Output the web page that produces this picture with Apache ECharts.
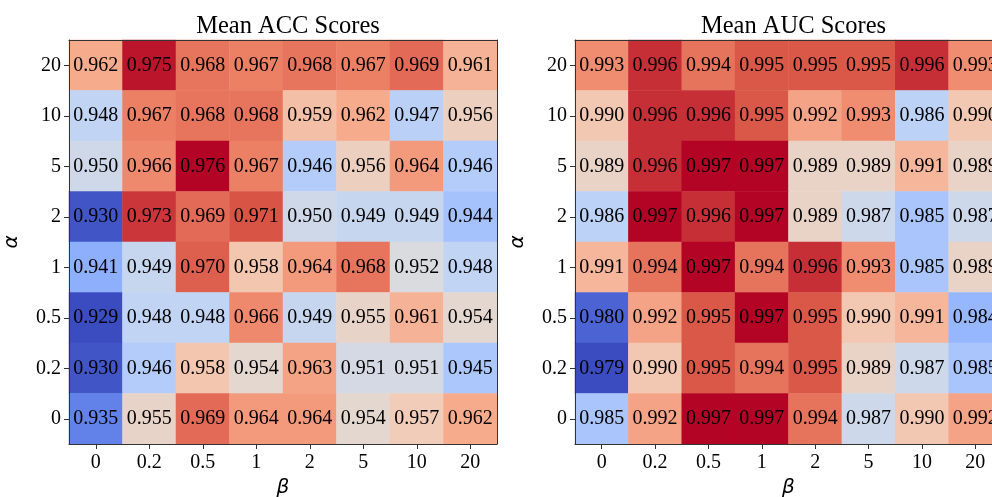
<!DOCTYPE html>
<html>
<head>
<meta charset="utf-8">
<script src="https://cdn.jsdelivr.net/npm/echarts@6/dist/echarts.min.js"></script>
<style>
html,body{margin:0;padding:0;background:#fff;}
#chart{width:992px;height:497px;}
</style>
</head>
<body>
<div id="chart"></div>
<script>
// beta (x) categories and alpha (y) categories (bottom to top)
const betaLabels = ['0', '0.2', '0.5', '1', '2', '5', '10', '20'];
const alphaLabels = ['0', '0.2', '0.5', '1', '2', '5', '10', '20'];

// Mean ACC rows, listed from alpha = 20 (top) down to alpha = 0 (bottom)
const accRows = [
  [0.962, 0.975, 0.968, 0.967, 0.968, 0.967, 0.969, 0.961], // 20
  [0.948, 0.967, 0.968, 0.968, 0.959, 0.962, 0.947, 0.956], // 10
  [0.950, 0.966, 0.976, 0.967, 0.946, 0.956, 0.964, 0.946], // 5
  [0.930, 0.973, 0.969, 0.971, 0.950, 0.949, 0.949, 0.944], // 2
  [0.941, 0.949, 0.970, 0.958, 0.964, 0.968, 0.952, 0.948], // 1
  [0.929, 0.948, 0.948, 0.966, 0.949, 0.955, 0.961, 0.954], // 0.5
  [0.930, 0.946, 0.958, 0.954, 0.963, 0.951, 0.951, 0.945], // 0.2
  [0.935, 0.955, 0.969, 0.964, 0.964, 0.954, 0.957, 0.962]  // 0
];

// Mean AUC rows, same ordering
const aucRows = [
  [0.993, 0.996, 0.994, 0.995, 0.995, 0.995, 0.996, 0.993], // 20
  [0.990, 0.996, 0.996, 0.995, 0.992, 0.993, 0.986, 0.990], // 10
  [0.989, 0.996, 0.997, 0.997, 0.989, 0.989, 0.991, 0.989], // 5
  [0.986, 0.997, 0.996, 0.997, 0.989, 0.987, 0.985, 0.987], // 2
  [0.991, 0.994, 0.997, 0.994, 0.996, 0.993, 0.985, 0.989], // 1
  [0.980, 0.992, 0.995, 0.997, 0.995, 0.990, 0.991, 0.984], // 0.5
  [0.979, 0.990, 0.995, 0.994, 0.995, 0.989, 0.987, 0.985], // 0.2
  [0.985, 0.992, 0.997, 0.997, 0.994, 0.987, 0.990, 0.992]  // 0
];

const titles = ['Mean ACC Scores', 'Mean AUC Scores'];

// coolwarm colormap samples (0.0 .. 1.0 in steps of 0.1)
const coolwarm = ['#3b4cc0', '#5977e3', '#7b9ff9', '#9ebeff', '#c0d4f5', '#dddcdc',
                  '#f2cbb7', '#f7ac8e', '#ee8468', '#d65244', '#b40426'];

function toTriples(rows) {
  const out = [];
  const n = rows.length;
  rows.forEach((row, r) => {
    row.forEach((v, c) => {
      out.push([c, n - 1 - r, v]);
    });
  });
  return out;
}
function rangeOf(rows) {
  const flat = rows.flat();
  return [Math.min(...flat), Math.max(...flat)];
}

const serif = 'Liberation Serif, Times New Roman, serif';
const greek = 'DejaVu Sans';
const grids = [
  {left: 69, top: 40, width: 428, height: 404},
  {left: 575, top: 40, width: 427, height: 404}
];

const chart = echarts.init(document.getElementById('chart'), null, {renderer: 'canvas'});

const datasets = [accRows, aucRows];
const option = {
  backgroundColor: '#fff',
  animation: false,
  title: titles.map((t, i) => ({
    text: t,
    left: grids[i].left + grids[i].width / 2,
    top: 9,
    textAlign: 'center',
    textStyle: {fontFamily: serif, fontSize: 24.5, fontWeight: 'normal', color: '#000'}
  })),
  grid: grids.map(g => Object.assign({containLabel: false, outerBoundsMode: 'none'}, g)),
  xAxis: [0, 1].map(i => ({
    type: 'category',
    gridIndex: i,
    data: betaLabels,
    z: 10,
    name: 'β',
    nameLocation: 'middle',
    nameGap: 34,
    nameTextStyle: {fontFamily: greek, fontStyle: 'italic', fontSize: 20, color: '#000'},
    axisLine: {show: true, lineStyle: {color: '#333', width: 1}},
    axisTick: {show: true, alignWithLabel: true, length: 5, lineStyle: {color: '#333'}},
    axisLabel: {fontFamily: serif, fontSize: 20, color: '#000', margin: 9},
    splitLine: {show: false},
    splitArea: {show: false}
  })).concat([0, 1].map(i => ({
    type: 'category',
    gridIndex: i,
    position: 'top',
    data: betaLabels,
    z: 10,
    axisLine: {show: true, lineStyle: {color: '#333', width: 1}},
    axisTick: {show: false},
    axisLabel: {show: false},
    splitLine: {show: false}
  }))),
  yAxis: [0, 1].map(i => ({
    type: 'category',
    gridIndex: i,
    data: alphaLabels,
    z: 10,
    name: 'α',
    nameLocation: 'middle',
    nameGap: 47,
    nameRotate: 90,
    nameTextStyle: {fontFamily: greek, fontStyle: 'italic', fontSize: 20, color: '#000'},
    axisLine: {show: true, lineStyle: {color: '#333', width: 1}},
    axisTick: {show: true, alignWithLabel: true, length: 5, lineStyle: {color: '#333'}},
    axisLabel: {fontFamily: serif, fontSize: 20, color: '#000', margin: 8},
    splitLine: {show: false},
    splitArea: {show: false}
  })).concat([0, 1].map(i => ({
    type: 'category',
    gridIndex: i,
    position: 'right',
    data: alphaLabels,
    z: 10,
    axisLine: {show: true, lineStyle: {color: '#333', width: 1}},
    axisTick: {show: false},
    axisLabel: {show: false},
    splitLine: {show: false}
  }))),
  visualMap: datasets.map((rows, i) => {
    const [mn, mx] = rangeOf(rows);
    return {
      type: 'continuous',
      show: false,
      seriesIndex: i,
      min: mn,
      max: mx,
      dimension: 2,
      inRange: {color: coolwarm}
    };
  }),
  series: datasets.map((rows, i) => ({
    type: 'heatmap',
    xAxisIndex: i,
    yAxisIndex: i,
    data: toTriples(rows),
    label: {
      show: true,
      formatter: p => p.value[2].toFixed(3),
      fontFamily: serif,
      fontSize: 20,
      color: '#000'
    },
    itemStyle: {borderWidth: 0},
    emphasis: {disabled: true}
  }))
};
chart.setOption(option);
</script>
</body>
</html>
